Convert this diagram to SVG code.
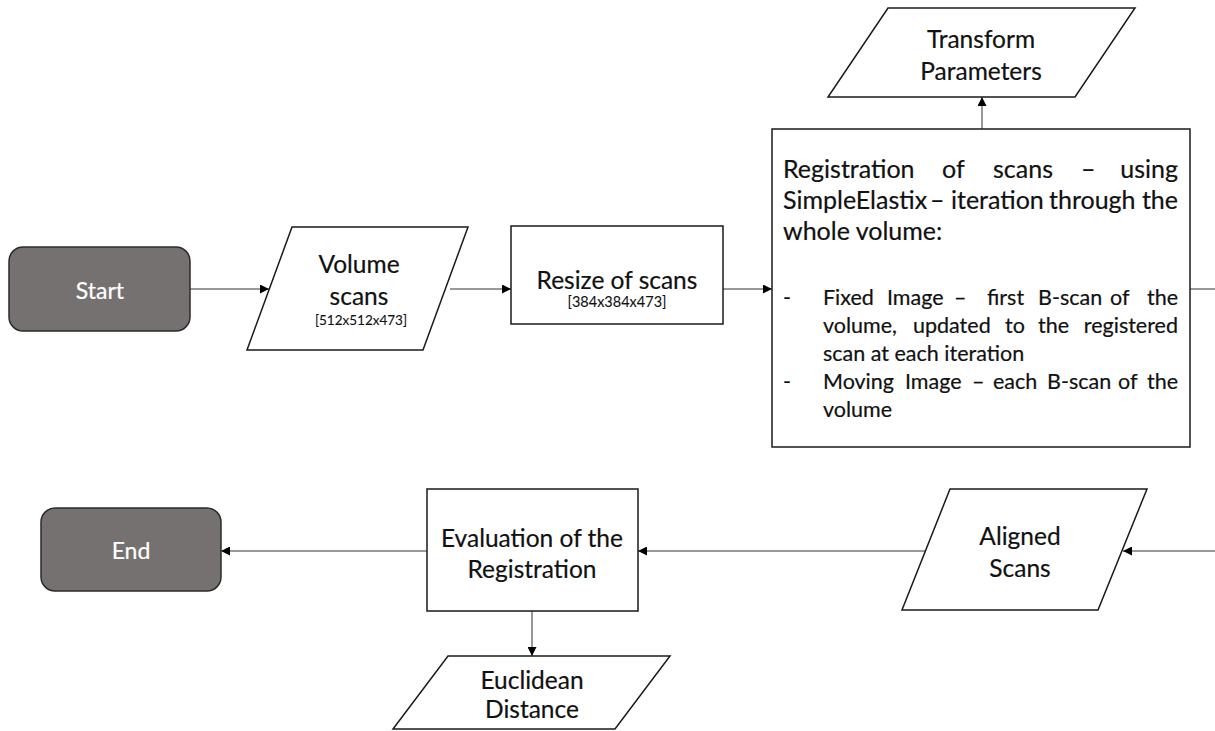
<svg xmlns="http://www.w3.org/2000/svg" width="1215" height="731" viewBox="0 0 1215 731">
  <defs>
    <marker id="arrow" viewBox="0 0 10 10" refX="10" refY="5" markerWidth="9" markerHeight="9" markerUnits="userSpaceOnUse" orient="auto">
      <path d="M0,0 L10,5 L0,10 z" fill="#000"/>
    </marker>
    <style>
      .term { fill: #767171; stroke: #2b2b2b; stroke-width: 1.5; }
      .box { fill: #ffffff; stroke: #1a1a1a; stroke-width: 1.5; }
      text { font-family: Lato, "Liberation Sans", sans-serif; fill: #111111; stroke: #111111; stroke-width: 0.2; }
      .lbl { font-size: 24.5px; text-anchor: middle; dominant-baseline: central; }
      .lbl-w { font-size: 23px; fill: #ffffff; stroke: #ffffff; text-anchor: middle; dominant-baseline: central; }
      .dim { font-size: 13.5px; text-anchor: middle; dominant-baseline: central; stroke-width: 0.1; }
      .dim-l { font-size: 14.5px; }
      .body { font-size: 25px; }
      .bul { font-size: 21.5px; }
      .end { text-anchor: end; }
      .conn { fill: none; stroke: #333333; stroke-width: 1; }
    </style>
  </defs>

  <rect width="1215" height="731" fill="#ffffff"/>

  <!-- connectors -->
  <g id="connectors">
    <line class="conn" x1="190" y1="289" x2="269" y2="289" marker-end="url(#arrow)"/>
    <line class="conn" x1="450" y1="289" x2="511" y2="289" marker-end="url(#arrow)"/>
    <line class="conn" x1="723" y1="289" x2="772" y2="289" marker-end="url(#arrow)"/>
    <line class="conn" x1="982" y1="129" x2="982" y2="97" marker-end="url(#arrow)"/>
    <path class="conn" d="M1190,289 H1230 V551 H1123" marker-end="url(#arrow)"/>
    <line class="conn" x1="925" y1="551" x2="638" y2="551" marker-end="url(#arrow)"/>
    <line class="conn" x1="427" y1="551" x2="221" y2="551" marker-end="url(#arrow)"/>
    <line class="conn" x1="532" y1="611" x2="532" y2="656" marker-end="url(#arrow)"/>
  </g>

  <g id="start">
    <rect class="term" x="9" y="247" width="181" height="84" rx="14"/>
    <text class="lbl-w" x="100" y="290">Start</text>
  </g>

  <g id="volume-scans">
    <polygon class="box" points="292,227 468,227 423,350 247,350"/>
    <text class="lbl" x="359" y="263">Volume</text>
    <text class="lbl" x="359" y="295">scans</text>
    <text class="dim" x="361" y="320">[512x512x473]</text>
  </g>

  <g id="resize">
    <rect class="box" x="511" y="226" width="212" height="98"/>
    <text class="lbl" x="617" y="279">Resize of scans</text>
    <text class="dim dim-l" x="617" y="301">[384x384x473]</text>
  </g>

  <g id="transform-parameters">
    <polygon class="box" points="888,8 1135,8 1075,97 828,97"/>
    <text class="lbl" x="981" y="38">Transform</text>
    <text class="lbl" x="981" y="70">Parameters</text>
  </g>

  <g id="registration">
    <rect class="box" x="772" y="129" width="418" height="318"/>
    <!-- justified paragraph, word by word -->
    <text class="body" y="178"><tspan x="783">Registration</tspan><tspan x="942">of</tspan><tspan x="993">scans</tspan><tspan x="1081">–</tspan></text>
    <text class="body end" x="1178" y="178">using</text>
    <text class="body" y="209"><tspan x="783">SimpleElastix</tspan><tspan x="930">–</tspan><tspan x="951">iteration</tspan><tspan x="1049">through</tspan></text>
    <text class="body end" x="1178" y="209">the</text>
    <text class="body" x="783" y="240">whole volume:</text>

    <text class="bul" x="783" y="305">-</text>
    <text class="bul" y="305"><tspan x="823">Fixed</tspan><tspan x="887">Image</tspan><tspan x="954">–</tspan><tspan x="987">first</tspan><tspan x="1038">B-scan</tspan><tspan x="1110">of</tspan></text>
    <text class="bul end" x="1178" y="305">the</text>
    <text class="bul" y="333"><tspan x="823">volume,</tspan><tspan x="913">updated</tspan><tspan x="1005">to</tspan><tspan x="1038">the</tspan></text>
    <text class="bul end" x="1178" y="333">registered</text>
    <text class="bul" x="823" y="361">scan at each iteration</text>

    <text class="bul" x="783" y="389">-</text>
    <text class="bul" y="389"><tspan x="823">Moving</tspan><tspan x="905">Image</tspan><tspan x="972">–</tspan><tspan x="993">each</tspan><tspan x="1047">B-scan</tspan><tspan x="1118">of</tspan></text>
    <text class="bul end" x="1178" y="389">the</text>
    <text class="bul" x="823" y="417">volume</text>
  </g>

  <g id="aligned-scans">
    <polygon class="box" points="950,489 1147,489 1098,610 902,610"/>
    <text class="lbl" x="1020" y="535">Aligned</text>
    <text class="lbl" x="1020" y="567">Scans</text>
  </g>

  <g id="evaluation">
    <rect class="box" x="427" y="489" width="211" height="122"/>
    <text class="lbl" x="532" y="537">Evaluation of the</text>
    <text class="lbl" x="532" y="568">Registration</text>
  </g>

  <g id="euclidean-distance">
    <polygon class="box" points="448,656 670,656 615,729 393,729"/>
    <text class="lbl" x="532" y="679">Euclidean</text>
    <text class="lbl" x="532" y="708">Distance</text>
  </g>

  <g id="end">
    <rect class="term" x="41" y="508" width="180" height="83" rx="14"/>
    <text class="lbl-w" x="131" y="550">End</text>
  </g>
</svg>
